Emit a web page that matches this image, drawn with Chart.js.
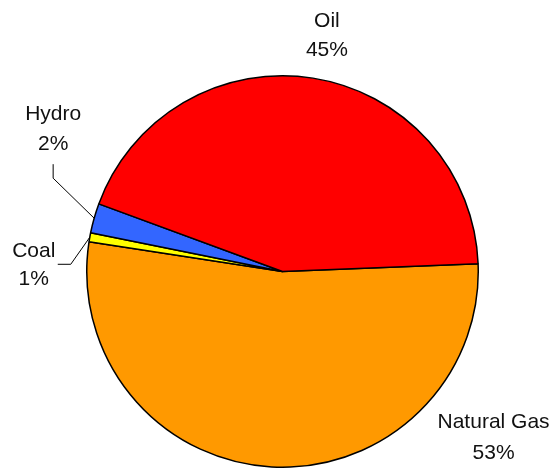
<!DOCTYPE html>
<html>
<head>
<meta charset="utf-8">
<script src="https://cdn.jsdelivr.net/npm/chart.js@4/dist/chart.umd.min.js"></script>
<style>
  html, body { margin: 0; padding: 0; background: #ffffff; }
  #wrap { width: 551px; height: 468px; position: relative; }
</style>
</head>
<body>
<div id="wrap"><canvas id="c" width="551" height="468"></canvas></div>
<script>
// Data (clockwise from the 3 o'clock boundary)
const categories = ['Natural Gas', 'Coal', 'Hydro', 'Oil'];
const shares = [53.06, 0.75, 2.44, 43.75];
const percentLabels = ['53%', '1%', '2%', '45%'];

// Styling
const sliceColors = ['#FF9900', '#FFFF00', '#3366FF', '#FF0000'];
// label placement relative to the slice's outer mid point: [text dx, line1 dy, line2 dy]
const labelPlacement = [
  { dx: 222, dy1: -39, dy2: -8, leader: null },
  { dx: -56, dy1: 20, dy2: 48, leader: [[-19, 27], [-32, 27]] },
  { dx: -41, dy1: -98, dy2: -68, leader: [[-41, -40], [-41, -54]] },
  { dx: 14, dy1: -51, dy2: -22, leader: null }
];

const labelPlugin = {
  id: 'outsideLabels',
  afterDatasetsDraw(chart) {
    const ctx = chart.ctx;
    const meta = chart.getDatasetMeta(0);
    ctx.save();
    ctx.font = '21px "Liberation Sans", Arial, sans-serif';
    ctx.fillStyle = '#111111';
    ctx.strokeStyle = '#000000';
    ctx.lineWidth = 1;
    ctx.textAlign = 'center';
    ctx.textBaseline = 'alphabetic';
    meta.data.forEach((arc, i) => {
      const p = arc.getProps(['x', 'y', 'startAngle', 'endAngle', 'outerRadius'], true);
      const mid = (p.startAngle + p.endAngle) / 2;
      const ex = p.x + Math.cos(mid) * p.outerRadius;
      const ey = p.y + Math.sin(mid) * p.outerRadius;
      const pl = labelPlacement[i];
      if (pl.leader) {
        ctx.beginPath();
        ctx.moveTo(ex, ey);
        pl.leader.forEach(pt => ctx.lineTo(ex + pt[0], ey + pt[1]));
        ctx.stroke();
      }
      ctx.fillText(categories[i], ex + pl.dx, ey + pl.dy1);
      ctx.fillText(percentLabels[i], ex + pl.dx, ey + pl.dy2);
    });
    ctx.restore();
  }
};

new Chart(document.getElementById('c'), {
  type: 'pie',
  data: {
    labels: categories,
    datasets: [{
      data: shares,
      backgroundColor: sliceColors,
      borderColor: '#000000',
      borderWidth: 1.5
    }]
  },
  options: {
    responsive: false,
    animation: false,
    devicePixelRatio: 1,
    rotation: 87.7,
    layout: { padding: { top: 75, left: 86, right: 72, bottom: 0 } },
    plugins: {
      legend: { display: false },
      tooltip: { enabled: false }
    }
  },
  plugins: [labelPlugin]
});
</script>
</body>
</html>
